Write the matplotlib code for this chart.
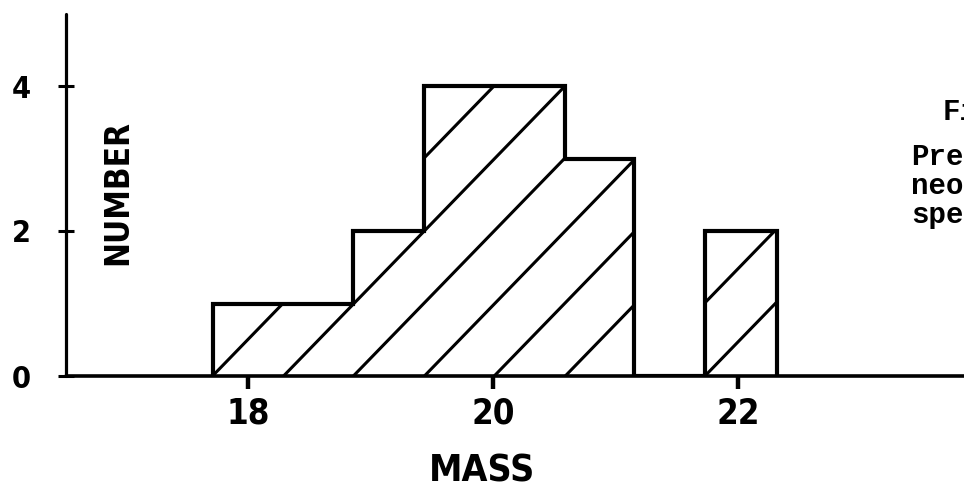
import matplotlib
matplotlib.use("Agg")
import matplotlib.pyplot as plt

# ---- data ----
bin_edges = [17.71, 18.29, 18.86, 19.44, 20.01, 20.59, 21.15, 21.73, 22.32]
counts = [1, 1, 2, 4, 4, 3, 0, 2]
x_ticks = [18, 20, 22]
x_tick_labels = ["18", "20", "22"]
y_ticks = [0, 2, 4]
y_tick_labels = ["0", "2", "4"]
x_label = "MASS"
y_label = "NUMBER"
side_title = "Fig."
side_lines = ["Prel", "neon", "spec"]

W, H, DPI = 964, 491, 100
fig = plt.figure(figsize=(W / DPI, H / DPI), dpi=DPI)
fig.patch.set_facecolor("white")

# axes placed in pixels: y axis at x=66, baseline at y=376
ax = fig.add_axes([66 / W, (H - 376) / H, (W - 66) / W, 362.5 / H])
ax.set_xlim(16.514, 23.845)
ax.set_ylim(0, 5.0)
ax.set_facecolor("none")

for s in ["top", "right"]:
    ax.spines[s].set_visible(False)
ax.spines["left"].set_linewidth(2.3)
ax.spines["bottom"].set_linewidth(2.6)
ax.spines["left"].set_capstyle("round")
ax.spines["bottom"].set_capstyle("round")

bold_cond = dict(family="DejaVu Sans", weight="bold", stretch="condensed")

ax.set_xticks(x_ticks)
ax.set_xticklabels(x_tick_labels, fontsize=25, **bold_cond)
ax.set_yticks(y_ticks)
ax.set_yticklabels(y_tick_labels, fontsize=22, **bold_cond)
ax.tick_params(axis="x", direction="out", length=9, width=3.2, pad=6, color="black")
ax.tick_params(axis="y", direction="inout", length=11, width=2.2, pad=20, color="black")

# histogram outline
ax.stairs(counts, bin_edges, baseline=0, fill=False, color="black",
          linewidth=3.0, zorder=3)

# hatch lines start at every bin edge, rising at ~45 degrees on screen
px_per_x = 122.5
px_per_y = 72.5
slope = 1.03 * px_per_x / px_per_y
clip_patch = ax.stairs(counts, bin_edges, baseline=0, fill=True, color="none",
                       linewidth=0)
for e in bin_edges:
    length = 4.0
    ln, = ax.plot([e, e + length], [0, length * slope], color="black",
                  linewidth=2.2, solid_capstyle="butt", zorder=2)
    ln.set_clip_path(clip_patch)

# axis labels
ax.set_xlabel(x_label, fontsize=27, **bold_cond)
ax.xaxis.label.set_va("center")
ax.xaxis.set_label_coords((482 - 66) / 898, (376 - 471) / 362.5)
ax.set_ylabel(y_label, fontsize=24, **bold_cond)
ax.yaxis.label.set_va("center")
ax.yaxis.set_label_coords((118 - 66) / 898, (376 - 192.5) / 362.5)

# cut-off caption text at the right edge
mono = dict(family="Liberation Mono", weight="bold", fontsize=21)
fig.text(943 / W, 1 - 120 / H, side_title, ha="left", va="baseline", **mono)
fig.text(911 / W, 1 - 143 / H, "\n".join(side_lines), ha="left", va="top",
         linespacing=1.05, **mono)

# fit label sizes to measured pixel extents
fig.canvas.draw()
r = fig.canvas.get_renderer()
yl = ax.yaxis.label
bb = yl.get_window_extent(r)
yl.set_fontsize(yl.get_fontsize() * 145 / bb.height)
xl = ax.xaxis.label
bb = xl.get_window_extent(r)
xl.set_fontsize(xl.get_fontsize() * 106 / bb.width)

fig.savefig("out.png", dpi=DPI)
